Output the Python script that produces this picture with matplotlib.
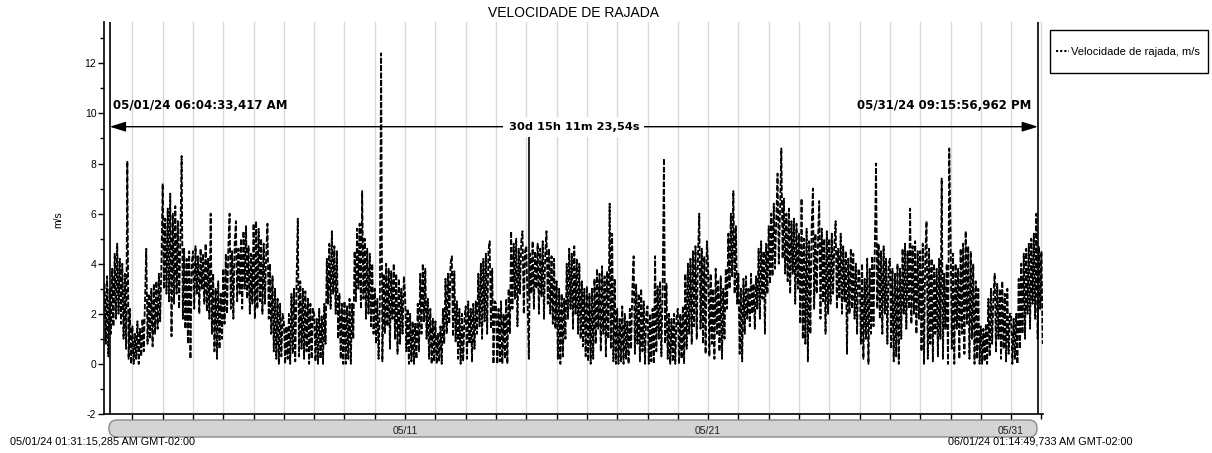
import numpy as np
import matplotlib
matplotlib.use("Agg")
import matplotlib.pyplot as plt
import matplotlib.dates as mdates
from matplotlib.patches import FancyBboxPatch, Rectangle
from matplotlib.lines import Line2D
from matplotlib.transforms import IdentityTransform
from matplotlib.ticker import MultipleLocator, FuncFormatter

plt.rcParams["axes.unicode_minus"] = False

# Hourly gust speed (m/s); first value is 05/01 02:00
d01 = [3.2, 0.8, 3.5, 0.3, 3.0, 1.2, 3.8, 1.5, 4.4, 1.8, 4.8, 2.0, 4.2, 1.6, 4.0, 1.0, 3.6, 0.6, 8.1, 0.2, 2.2, 0.0]
d02 = [1.5, 0.0, 1.2, 0.2, 1.7, 0.0, 1.4, 0.3, 1.8, 0.5, 2.5, 4.6, 0.8, 2.8, 1.0, 3.0, 0.7, 3.2, 1.2, 3.3, 1.4, 3.6, 1.7, 4.0]
d03 = [7.2, 3.0, 5.8, 2.8, 6.2, 2.5, 6.8, 1.1, 6.0, 2.4, 6.3, 2.8, 5.7, 2.2, 5.0, 8.3, 1.8, 4.6, 1.4, 4.2, 0.8, 4.5, 0.2, 4.0]
d04 = [4.5, 2.2, 4.7, 2.8, 4.3, 2.0, 4.6, 3.0, 4.4, 2.4, 4.8, 2.1, 4.2, 1.8, 6.0, 1.2, 3.6, 0.5, 3.0, 0.2, 3.3, 0.6, 2.8, 1.0]
d05 = [3.8, 1.6, 4.4, 2.0, 4.7, 6.0, 2.2, 4.5, 1.8, 4.8, 5.7, 2.5, 4.6, 2.8, 5.0, 2.2, 5.3, 3.0, 5.5, 2.6, 4.7, 2.0, 4.4, 2.4]
d06 = [5.6, 1.8, 5.7, 2.2, 5.4, 2.5, 5.0, 2.0, 4.8, 2.4, 4.4, 5.6, 1.8, 4.0, 1.2, 3.5, 0.5, 3.0, 0.2, 2.6, 0.0, 2.4, 0.3, 2.0]
d07 = [1.7, 0.0, 1.5, 0.2, 2.0, 0.0, 2.8, 0.4, 3.0, 0.1, 3.2, 5.8, 0.3, 3.3, 0.6, 3.0, 0.2, 2.9, 0.5, 2.6, 0.0, 2.4, 0.2, 2.2]
d08 = [2.0, 0.1, 1.8, 0.0, 2.2, 0.2, 1.9, 0.0, 2.4, 0.8, 4.2, 2.4, 4.8, 2.2, 5.3, 2.8, 4.7, 2.0, 4.5, 1.0, 2.8, 0.2, 2.4, 0.0]
d09 = [2.5, 0.0, 2.3, 0.2, 2.6, 0.0, 2.4, 1.0, 4.5, 2.5, 5.4, 3.0, 5.6, 2.2, 6.9, 2.6, 5.0, 1.8, 4.6, 2.0, 4.4, 1.5, 4.0, 1.2]
d10 = [3.0, 0.8, 2.6, 0.2, 2.4, 12.4, 0.1, 3.6, 1.2, 4.0, 1.5, 3.8, 0.6, 3.7, 1.8, 4.0, 1.0, 3.6, 0.4, 3.4, 0.8, 3.0, 1.2, 3.5]
d11 = [2.8, 0.5, 2.2, 0.0, 2.0, 0.1, 1.7, 0.0, 1.6, 0.2, 2.4, 0.5, 3.6, 1.2, 4.0, 1.7, 3.8, 1.0, 2.6, 0.2, 2.2, 0.0, 1.8, 0.1]
d12 = [1.7, 0.0, 1.2, 0.1, 1.5, 0.0, 2.2, 0.8, 3.4, 1.2, 3.6, 1.6, 4.0, 4.3, 1.1, 3.7, 0.9, 2.5, 0.2, 2.2, 0.0, 2.0, 0.1, 1.8]
d13 = [2.3, 0.2, 2.5, 0.8, 2.2, 0.1, 2.4, 0.6, 2.5, 1.2, 3.6, 1.5, 4.0, 1.0, 4.2, 1.7, 4.4, 1.2, 4.5, 4.9, 1.4, 3.8, 0.0, 2.5]
d14 = [2.4, 0.0, 2.2, 0.1, 2.5, 0.0, 2.0, 0.2, 2.6, 0.0, 3.0, 1.2, 5.3, 2.2, 4.8, 2.6, 5.0, 1.5, 4.6, 2.8, 4.9, 5.3, 2.0, 4.5]
d15 = [4.7, 2.5, 0.2, 4.4, 2.8, 4.9, 2.2, 4.5, 3.0, 4.8, 2.0, 4.6, 2.7, 4.9, 1.8, 4.4, 5.3, 2.4, 4.6, 2.0, 4.3, 1.6, 4.2, 1.4]
d16 = [3.3, 0.2, 3.0, 0.0, 2.8, 0.3, 2.6, 1.0, 4.0, 1.8, 4.6, 2.2, 4.4, 1.4, 4.7, 2.0, 4.2, 1.2, 4.0, 1.0, 3.3, 0.7, 3.0, 0.3]
d17 = [3.1, 0.1, 2.8, 0.0, 3.0, 0.2, 3.4, 0.8, 3.8, 1.4, 3.6, 0.5, 3.9, 1.2, 3.5, 0.3, 3.7, 1.0, 6.4, 0.6, 5.2, 0.1, 3.4, 0.0]
d18 = [2.2, 0.0, 1.8, 0.1, 2.3, 0.0, 2.0, 0.2, 1.7, 0.0, 2.2, 0.6, 3.0, 4.3, 0.4, 3.2, 0.8, 2.8, 0.1, 3.0, 0.5, 2.5, 0.0, 2.0]
d19 = [2.3, 0.0, 2.0, 0.1, 2.2, 0.0, 4.3, 0.5, 3.1, 1.0, 3.3, 0.3, 3.0, 8.2, 0.8, 3.2, 0.2, 2.0, 0.0, 1.8, 0.1, 2.0, 0.0, 1.9]
d20 = [2.2, 0.0, 2.0, 0.2, 2.3, 0.0, 3.6, 0.6, 4.0, 1.2, 4.2, 0.8, 4.5, 1.5, 4.7, 1.0, 4.4, 6.0, 1.4, 4.6, 0.8, 4.3, 0.4, 4.9]
d21 = [4.0, 0.3, 3.6, 0.8, 3.0, 0.2, 3.8, 1.2, 3.3, 0.5, 3.5, 0.2, 3.0, 1.0, 3.8, 2.2, 5.2, 3.0, 6.0, 3.5, 6.9, 2.8, 5.5, 2.4]
d22 = [3.6, 0.4, 3.0, 0.1, 3.4, 1.2, 3.5, 1.8, 3.0, 1.5, 3.6, 2.0, 3.2, 1.4, 3.5, 2.2, 4.6, 1.8, 4.9, 2.6, 4.5, 1.2, 4.8, 2.8]
d23 = [5.5, 3.2, 6.0, 3.5, 6.4, 3.8, 5.8, 7.6, 4.0, 6.2, 8.6, 4.2, 6.6, 3.6, 6.0, 3.3, 6.2, 2.8, 5.7, 3.6, 5.8, 2.4, 5.6, 3.0]
d24 = [5.2, 1.6, 6.6, 1.0, 5.0, 0.8, 5.4, 0.1, 4.9, 1.2, 5.5, 7.0, 2.2, 5.2, 2.8, 4.9, 6.5, 1.8, 5.4, 2.5, 5.0, 1.2, 5.3, 2.0]
d25 = [5.0, 2.4, 5.2, 2.8, 4.8, 5.7, 2.2, 4.6, 2.6, 5.2, 2.0, 4.7, 2.5, 4.5, 0.4, 4.2, 2.0, 4.6, 2.2, 4.4, 1.8, 4.0, 1.2, 3.8]
d26 = [3.6, 0.8, 4.0, 0.2, 3.4, 1.0, 4.2, 0.0, 3.8, 1.2, 4.3, 1.5, 4.6, 8.0, 2.2, 4.8, 1.8, 4.5, 1.2, 4.7, 2.0, 4.2, 0.8, 4.0]
d27 = [4.2, 0.6, 3.8, 0.1, 3.6, 0.3, 4.0, 0.0, 3.8, 1.0, 4.6, 2.0, 4.8, 1.4, 4.5, 2.2, 6.2, 1.6, 4.7, 2.0, 4.9, 1.2, 4.5, 1.8]
d28 = [4.5, 0.5, 4.8, 0.0, 4.4, 5.7, 0.2, 4.6, 0.8, 4.2, 0.1, 4.0, 1.2, 3.8, 0.3, 4.2, 1.0, 7.4, 0.2, 3.6, 1.4, 4.0, 0.0, 8.6]
d29 = [5.3, 0.6, 4.4, 0.0, 4.0, 1.4, 3.8, 0.2, 4.6, 1.2, 4.8, 0.4, 5.3, 1.6, 4.7, 0.2, 4.5, 1.0, 4.0, 0.0, 3.3, 0.2, 3.0, 0.0]
d30 = [1.5, 0.0, 1.4, 0.1, 1.6, 0.0, 2.6, 0.3, 3.0, 0.8, 2.8, 3.6, 0.5, 3.2, 1.0, 3.0, 0.2, 3.3, 0.6, 2.8, 0.1, 3.0, 0.4, 2.0]
d31 = [2.0, 0.0, 1.8, 0.2, 2.0, 0.0, 3.4, 0.6, 4.0, 1.2, 4.4, 1.0, 4.6, 2.0, 4.8, 1.4, 5.0, 2.4, 5.2, 1.8, 6.0, 1.0, 4.7, 2.2]
jun01 = [4.5, 0.8]

series_label = "Velocidade de rajada, m/s"
title = "VELOCIDADE DE RAJADA"
y_label = "m/s"
x_start = np.datetime64("2024-05-01T01:31:15")
x_end = np.datetime64("2024-06-01T01:14:49")
cursor_a = np.datetime64("2024-05-01T06:04:33")
cursor_b = np.datetime64("2024-05-31T21:15:57")
cursor_mid = np.datetime64("2024-05-15T02:10:00")
cursor_level = 9.47
cursor_mid_value = 2.7
label_a = "05/01/24 06:04:33,417 AM"
label_b = "05/31/24 09:15:56,962 PM"
label_span = "30d 15h 11m 23,54s"
range_start_text = "05/01/24 01:31:15,285 AM GMT-02:00"
range_end_text = "06/01/24 01:14:49,733 AM GMT-02:00"
labelled_days = (11, 21, 31)

gust = np.array(d01 + d02 + d03 + d04 + d05 + d06 + d07 + d08 + d09 + d10 +
                d11 + d12 + d13 + d14 + d15 + d16 + d17 + d18 + d19 + d20 +
                d21 + d22 + d23 + d24 + d25 + d26 + d27 + d28 + d29 + d30 +
                d31 + jun01)
times = np.datetime64("2024-05-01T02:00") + np.arange(len(gust)) * np.timedelta64(1, "h")

W, H = 1212, 453
SANS = ["Liberation Sans", "DejaVu Sans"]
BOLD = ["DejaVu Sans"]
fig = plt.figure(figsize=(W / 100, H / 100), dpi=100)
ax = fig.add_axes([104 / W, 1 - 414 / H, (1043 - 104) / W, (414 - 22) / H])

ax.plot(times, gust, color="black", lw=1.3, linestyle=(0, (3, 1.1)), zorder=3)
ax.set_xlim(x_start, x_end)
ax.set_ylim(-2, 13.65)

# axes styling
for s in ("top", "right"):
    ax.spines[s].set_visible(False)
ax.spines["left"].set_linewidth(1.2)
ax.spines["bottom"].set_linewidth(1.2)

ax.xaxis.set_major_locator(mdates.DayLocator())
def fmt(v, pos):
    d = mdates.num2date(v)
    return d.strftime("%m/%d") if d.day in labelled_days and d.month == 5 else ""
ax.xaxis.set_major_formatter(FuncFormatter(fmt))
ax.grid(axis="x", color="#d9d9d9", lw=1.0, zorder=0)
ax.yaxis.set_major_locator(MultipleLocator(2))
ax.yaxis.set_minor_locator(MultipleLocator(1))
ax.tick_params(axis="y", which="major", length=4, width=1, pad=1.5, labelsize=7.5, direction="out")
ax.tick_params(axis="y", which="minor", length=3, width=1)
ax.tick_params(axis="x", which="major", length=3.5, width=1, pad=5, labelsize=7.5, labelcolor="#222222")
for lab in ax.get_xticklabels() + ax.get_yticklabels():
    lab.set_family(SANS)

# cursor widgets
ax.axvline(cursor_a, color="black", lw=1.2, zorder=4)
ax.axvline(cursor_b, color="black", lw=1.2, zorder=4)
xa = mdates.date2num(cursor_a)
xb = mdates.date2num(cursor_b)
xm = mdates.date2num(cursor_mid)
ax.annotate("", xy=(xb, cursor_level), xytext=(xa, cursor_level),
            arrowprops=dict(arrowstyle="<|-|>,head_length=0.8,head_width=0.25",
                            color="black", lw=1.0, shrinkA=0, shrinkB=0, mutation_scale=12),
            zorder=5)
ax.plot([xm, xm], [cursor_level, cursor_mid_value], color="black", lw=1.2, zorder=4)
ax.annotate(label_a, xy=(xa, cursor_level), xytext=(2.5, 15), textcoords="offset points",
            ha="left", va="center", fontsize=8.5, fontweight="bold", family=BOLD, zorder=6)
ax.annotate(label_b, xy=(xb, cursor_level), xytext=(-4.5, 15), textcoords="offset points",
            ha="right", va="center", fontsize=8.5, fontweight="bold", family=BOLD, zorder=6)
ax.text((xa + xb) / 2, cursor_level, label_span, ha="center", va="center", fontsize=8.2,
        fontweight="bold", family=BOLD, zorder=6,
        bbox=dict(boxstyle="square,pad=0.45", fc="white", ec="none"))

# title and labels
fig.text(573 / W, 1 - 13 / H, title, ha="center", va="center", fontsize=10, family=SANS)
fig.text(58 / W, 1 - 220 / H, y_label, ha="center", va="center", rotation=90, fontsize=7.5, family=SANS)
fig.text(10 / W, 1 - 442 / H, range_start_text, ha="left", va="center", fontsize=7.8, family=SANS)
fig.text(948 / W, 1 - 442 / H, range_end_text, ha="left", va="center", fontsize=7.8, family=SANS)

# scrollbar under the time axis
bar = FancyBboxPatch((109, H - 437), 928, 17, boxstyle="round,pad=0,rounding_size=8",
                     transform=IdentityTransform(), fc="#d4d4d4", ec="#8a8a8a", lw=1.0, zorder=-1)
fig.add_artist(bar)

# legend box
fig.add_artist(Rectangle((1050, H - 73), 158, 43, transform=IdentityTransform(),
                         fc="white", ec="black", lw=1.0, zorder=-1))
proxy = Line2D([], [], color="black", lw=1.5, linestyle=(0, (1, 1)))
leg = fig.legend([proxy], [series_label], loc="center left", bbox_to_anchor=(1056 / W, 1 - 52 / H),
                 frameon=False, handlelength=1.2, handletextpad=0.15, borderaxespad=0, borderpad=0,
                 prop={"family": SANS, "size": 8.0})

fig.savefig("out.png", dpi=100)
